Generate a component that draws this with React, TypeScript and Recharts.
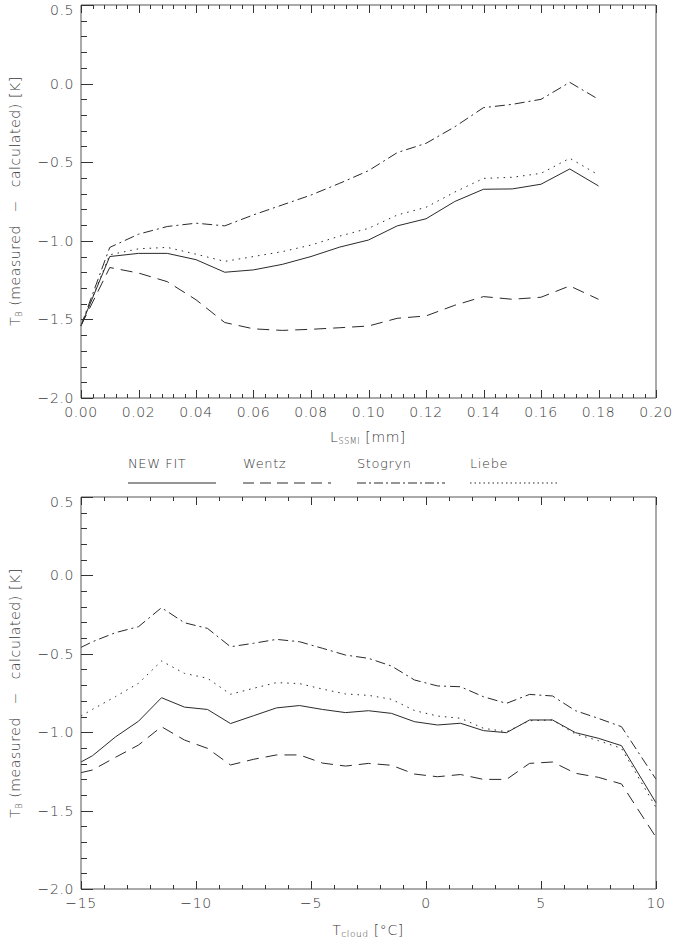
import { LineChart, Line, XAxis, YAxis } from 'recharts';

// series names, in legend order
const seriesNames = ['NEW FIT', 'Wentz', 'Stogryn', 'Liebe'];
const seriesKeys = ['newFit', 'wentz', 'stogryn', 'liebe'];

// upper panel: TB difference vs SSM/I liquid water path [mm]
const lwpX = [0, 0.01, 0.02, 0.03, 0.04, 0.05, 0.06, 0.07, 0.08, 0.09, 0.1, 0.11, 0.12, 0.13, 0.14, 0.15, 0.16, 0.17, 0.18];
const lwpNewFit = [-1.54, -1.1, -1.08, -1.08, -1.12, -1.2, -1.185, -1.15, -1.1, -1.04, -0.995, -0.905, -0.86, -0.75, -0.672, -0.67, -0.64, -0.543, -0.651];
const lwpWentz = [-1.54, -1.17, -1.205, -1.26, -1.375, -1.52, -1.56, -1.57, -1.563, -1.553, -1.542, -1.493, -1.478, -1.41, -1.355, -1.372, -1.359, -1.287, -1.372];
const lwpStogryn = [-1.54, -1.042, -0.958, -0.909, -0.888, -0.905, -0.835, -0.772, -0.709, -0.634, -0.554, -0.439, -0.38, -0.275, -0.153, -0.132, -0.1, 0.008, -0.1];
const lwpLiebe = [-1.54, -1.089, -1.051, -1.042, -1.085, -1.131, -1.1, -1.069, -1.027, -0.97, -0.921, -0.836, -0.787, -0.69, -0.603, -0.596, -0.571, -0.475, -0.581];

// lower panel: TB difference vs cloud temperature [°C]
const tcX = [-15, -14.5, -13.5, -12.5, -11.5, -10.5, -9.5, -8.5, -7.5, -6.5, -5.5, -4.5, -3.5, -2.5, -1.5, -0.5, 0.5, 1.5, 2.5, 3.5, 4.5, 5.5, 6.5, 7.5, 8.5, 10];
const tcNewFit = [-1.19, -1.15, -1.03, -0.93, -0.78, -0.84, -0.855, -0.945, -0.895, -0.845, -0.83, -0.855, -0.875, -0.863, -0.88, -0.933, -0.954, -0.943, -0.99, -1.003, -0.922, -0.922, -1.003, -1.039, -1.086, -1.45];
const tcWentz = [-1.258, -1.241, -1.16, -1.082, -0.965, -1.05, -1.103, -1.209, -1.173, -1.145, -1.145, -1.197, -1.216, -1.199, -1.211, -1.267, -1.284, -1.27, -1.301, -1.301, -1.199, -1.19, -1.262, -1.288, -1.33, -1.67];
const tcStogryn = [-0.459, -0.423, -0.365, -0.327, -0.206, -0.302, -0.338, -0.455, -0.433, -0.408, -0.423, -0.465, -0.508, -0.529, -0.578, -0.667, -0.705, -0.71, -0.774, -0.816, -0.759, -0.769, -0.863, -0.912, -0.965, -1.3];
const tcLiebe = [-0.897, -0.854, -0.773, -0.688, -0.546, -0.625, -0.656, -0.758, -0.72, -0.684, -0.69, -0.725, -0.756, -0.765, -0.79, -0.862, -0.897, -0.911, -0.975, -0.997, -0.927, -0.922, -1.012, -1.054, -1.103, -1.48];

// axis ticks (major, labelled)
const yMajor = [-2.0, -1.5, -1.0, -0.5, 0.0, 0.5];
const lwpMajor = [0, 0.02, 0.04, 0.06, 0.08, 0.1, 0.12, 0.14, 0.16, 0.18, 0.2];
const tcMajor = [-15, -10, -5, 0, 5, 10];

const INK = '#2a2a2a';
const AXIS = '#555';
const TICK = '#333';
const FONT = '"DejaVu Sans", Roboto, sans-serif';
const DASH: Record<string, string | undefined> = {
  newFit: undefined,
  wentz: '12 7',
  stogryn: '10 4 2 4',
  liebe: '1.5 5',
};
const LEGEND_DASH: Record<string, string | undefined> = {
  newFit: undefined,
  wentz: '11 6',
  stogryn: '9 3 2 3',
  liebe: '1.5 3',
};

// split every major interval into n minor steps
function withMinor(majors: number[], n: number) {
  const out: number[] = [];
  for (let i = 0; i < majors.length - 1; i++) {
    for (let k = 0; k < n; k++) {
      out.push(+(majors[i] + ((majors[i + 1] - majors[i]) * k) / n).toFixed(6));
    }
  }
  out.push(majors[majors.length - 1]);
  return out;
}

const isMajor = (v: number, majors: number[]) => majors.some((m) => Math.abs(m - v) < 1e-9);
const minus = (s: string) => s.replace('-', '\u2212');

const MARGIN = 7;
const labelStyle = { fontFamily: FONT, fontSize: 14, fontWeight: 200, fill: '#3a3a3a', letterSpacing: 0.6 };

// IDL-style ticks: drawn inward from the frame, long for majors, short for minors
function leftTick(majors: number[], fmt: (v: number) => string) {
  return (p: any) => {
    const v = p.payload.value;
    const major = isMajor(v, majors);
    const ax = Number(p.x) + MARGIN;
    const y = Math.round(Number(p.y)) + 0.5;
    // the top label sits a little below the frame, as in the original
    const ty = Math.abs(v - majors[majors.length - 1]) < 1e-9 ? Number(p.y) + 5 : Number(p.y);
    return (
      <g>
        <path d={`M${ax},${y}h${major ? 12 : 6}`} stroke={TICK} strokeWidth={1} fill="none" />
        {major && (
          <text x={p.x} y={ty} textAnchor="end" dominantBaseline="central" style={labelStyle}>
            {fmt(v)}
          </text>
        )}
      </g>
    );
  };
}

function rightTick(majors: number[]) {
  return (p: any) => {
    const major = isMajor(p.payload.value, majors);
    const ax = Number(p.x) - MARGIN;
    const y = Math.round(Number(p.y)) + 0.5;
    return <path d={`M${ax},${y}h${major ? -12 : -6}`} stroke={TICK} strokeWidth={1} fill="none" />;
  };
}

function bottomTick(majors: number[], fmt: (v: number) => string) {
  return (p: any) => {
    const v = p.payload.value;
    const major = isMajor(v, majors);
    const ay = Number(p.y) - 14;
    const x = Math.round(Number(p.x)) + 0.5;
    return (
      <g>
        <path d={`M${x},${ay}v${major ? -8 : -4}`} stroke={TICK} strokeWidth={1} fill="none" />
        {major && (
          <text x={p.x} y={p.y} textAnchor="middle" dominantBaseline="central" style={labelStyle}>
            {fmt(v)}
          </text>
        )}
      </g>
    );
  };
}

function topTick(majors: number[]) {
  return (p: any) => {
    const major = isMajor(p.payload.value, majors);
    const ay = Number(p.y) + MARGIN;
    const x = Math.round(Number(p.x)) + 0.5;
    return <path d={`M${x},${ay}v${major ? 8 : 4}`} stroke={TICK} strokeWidth={1} fill="none" />;
  };
}

interface PanelProps {
  rows: any[];
  domain: [number, number];
  majors: number[];
  fmtX: (v: number) => string;
  top: number;
  height: number;
  marginTop: number;
  xAxisHeight: number;
}

function Panel({ rows, domain, majors, fmtX, top, height, marginTop, xAxisHeight }: PanelProps) {
  const xTicks = withMinor(majors, 5);
  const yTicks = withMinor(yMajor, 5);
  const fmtY = (v: number) => minus(v.toFixed(1));
  return (
    <div style={{ position: 'absolute', left: 0, top }}>
      <LineChart width={674} height={height} data={rows} margin={{ top: marginTop - 1, right: 17, left: 0, bottom: 0 }}>
        <XAxis
          dataKey="x"
          type="number"
          domain={domain}
          ticks={xTicks}
          interval={0}
          height={xAxisHeight}
          tickSize={0}
          tickMargin={14}
          tickLine={false}
          axisLine={{ stroke: AXIS }}
          tick={bottomTick(majors, fmtX)}
        />
        <XAxis
          xAxisId="t"
          orientation="top"
          dataKey="x"
          type="number"
          domain={domain}
          ticks={xTicks}
          interval={0}
          height={1}
          tickSize={0}
          tickMargin={MARGIN}
          tickLine={false}
          axisLine={{ stroke: AXIS }}
          tick={topTick(majors)}
        />
        <YAxis
          type="number"
          domain={[-2, 0.5]}
          ticks={yTicks}
          interval={0}
          width={81}
          tickSize={0}
          tickMargin={MARGIN}
          tickLine={false}
          axisLine={{ stroke: AXIS }}
          tick={leftTick(yMajor, fmtY)}
        />
        <YAxis
          yAxisId="r"
          orientation="right"
          type="number"
          domain={[-2, 0.5]}
          ticks={yTicks}
          interval={0}
          width={1}
          tickSize={0}
          tickMargin={MARGIN}
          tickLine={false}
          axisLine={{ stroke: AXIS }}
          tick={rightTick(yMajor)}
        />
        {seriesKeys.map((k) => (
          <Line
            key={k}
            type="linear"
            dataKey={k}
            stroke={INK}
            strokeWidth={1}
            strokeDasharray={DASH[k]}
            dot={false}
            isAnimationActive={false}
          />
        ))}
      </LineChart>
    </div>
  );
}

const lwpRows = lwpX.map((x, i) => ({
  x,
  newFit: lwpNewFit[i],
  wentz: lwpWentz[i],
  stogryn: lwpStogryn[i],
  liebe: lwpLiebe[i],
}));

const tcRows = tcX.map((x, i) => ({
  x,
  newFit: tcNewFit[i],
  wentz: tcWentz[i],
  stogryn: tcStogryn[i],
  liebe: tcLiebe[i],
}));

const titleStyle = { fontFamily: FONT, fontSize: 14, fontWeight: 200, fill: '#3a3a3a', letterSpacing: 0.6 };

function YTitle({ cy }: { cy: number }) {
  return (
    <text transform={`translate(15,${cy}) rotate(-90)`} textAnchor="middle" dominantBaseline="central" style={titleStyle}>
      T<tspan fontSize={8} dy={4}>B</tspan>
      <tspan dy={-4}> (measured {'\u2002\u2212\u2002'} calculated) [K]</tspan>
    </text>
  );
}

const legendX = [128, 243, 357, 470];

export default function App() {
  return (
    <div style={{ position: 'absolute', left: 0, top: 0, width: 674, height: 946, background: '#fff' }}>
      <Panel
        rows={lwpRows}
        domain={[0, 0.2]}
        majors={lwpMajor}
        fmtX={(v) => v.toFixed(2)}
        top={0}
        height={450}
        marginTop={5}
        xAxisHeight={52}
      />
      <Panel
        rows={tcRows}
        domain={[-15, 10]}
        majors={tcMajor}
        fmtX={(v) => minus(String(v))}
        top={490}
        height={456}
        marginTop={7}
        xAxisHeight={57}
      />
      <svg width={674} height={946} style={{ position: 'absolute', left: 0, top: 0, pointerEvents: 'none' }}>
        <YTitle cy={201} />
        <YTitle cy={693} />
        <text x={368} y={437} textAnchor="middle" dominantBaseline="central" style={titleStyle}>
          L<tspan fontSize={8} dy={4}>SSMI</tspan>
          <tspan dy={-4}> [mm]</tspan>
        </text>
        <text x={368} y={930} textAnchor="middle" dominantBaseline="central" style={titleStyle}>
          T<tspan fontSize={9} dy={4}>cloud</tspan>
          <tspan dy={-4}> [°C]</tspan>
        </text>
        {seriesNames.map((name, i) => (
          <g key={name}>
            <text x={legendX[i]} y={463} dominantBaseline="central" style={{ ...titleStyle, fontSize: 13 }}>
              {name}
            </text>
            <line
              x1={legendX[i]}
              x2={legendX[i] + 88}
              y1={483}
              y2={483}
              stroke={INK}
              strokeWidth={1}
              strokeDasharray={LEGEND_DASH[seriesKeys[i]]}
            />
          </g>
        ))}
      </svg>
    </div>
  );
}
